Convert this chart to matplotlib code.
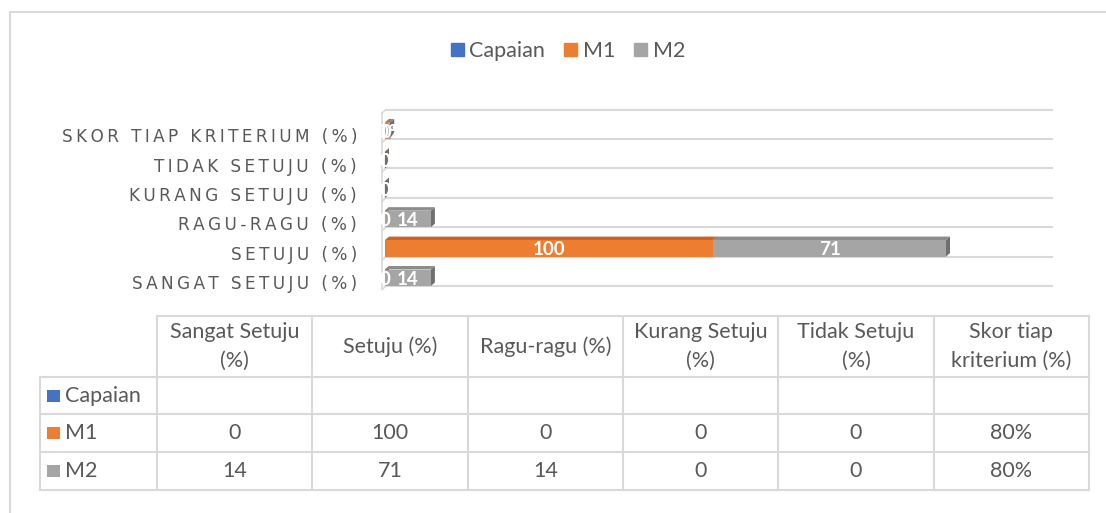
import textwrap
import numpy as np
import matplotlib.pyplot as plt
from matplotlib.patches import Polygon, Rectangle, Patch

# ---- data ----
categories = ['Sangat Setuju (%)', 'Setuju (%)', 'Ragu-ragu (%)',
              'Kurang Setuju (%)', 'Tidak Setuju (%)', 'Skor tiap kriterium (%)']
series_names = ['Capaian', 'M1', 'M2']
capaian = [None, None, None, None, None, None]
m1 = [0, 100, 0, 0, 0, 0.8]
m2 = [14, 71, 14, 0, 0, 0.8]
percent_cat = [False, False, False, False, False, True]

colors = ['#4472C4', '#ED7D31', '#A5A5A5']
top_colors = ['#3A62A8', '#C9652A', '#8C8C8C']
side_colors = ['#2F528F', '#A9531F', '#6F6F6F']
text_color = '#595959'
line_color = '#D9D9D9'
FONT = ['Lato', 'DejaVu Sans']
plt.rcParams['font.family'] = FONT


def fmt(v, is_pct):
    if v is None:
        return ''
    return f'{v:.0%}' if is_pct else f'{v:g}'


W, H = 1106, 513
fig = plt.figure(figsize=(W / 100, H / 100), dpi=100)

# background layer in pixel coords (border + data table)
bg = fig.add_axes([0, 0, 1, 1])
bg.set_xlim(0, W)
bg.set_ylim(H, 0)
bg.axis('off')
bg.plot([10, 10, W + 5], [H + 5, 12, 12], color=line_color, lw=1.5)

# ---- 3D-ish stacked bar chart ----
x0_px, x1_px, yt_px, yb_px = 382, 1052, 109.5, 286
ax = fig.add_axes([x0_px / W, 1 - yb_px / H, (x1_px - x0_px) / W, (yb_px - yt_px) / H],
                  facecolor='none')
xmin, xmax = -0.9, 203.3
ax.set_xlim(xmin, xmax)
ax.set_ylim(-0.5, 5.5)
upx = (xmax - xmin) / (x1_px - x0_px)
vpx = 6 / (yb_px - yt_px)
dx, dy = 4 * upx, 3.5 * vpx
hf = 16.5 * vpx

n = len(categories)
# back wall grid + left wall
for k in range(n + 1):
    y = k - 0.5
    ax.plot([xmin + dx, xmax], [y, y], color=line_color, lw=1.5, zorder=0, clip_on=False)
    ax.plot([xmin, xmin + dx], [y - dy, y], color=line_color, lw=1.2, zorder=0, clip_on=False)
ax.plot([xmin, xmin], [-0.5 - dy, n - 0.5 - dy], color=line_color, lw=1.2, zorder=0, clip_on=False)

series_vals = [capaian, m1, m2]
for i in range(n):
    b = i - 0.5
    left = 0
    z = 2
    for s, vals in enumerate(series_vals):
        v = vals[i]
        if v is None:
            continue
        ax.add_patch(Polygon([(left + v, b), (left + v + dx, b + dy), (left + v + dx, b + hf + dy),
                              (left + v, b + hf)], closed=True, color=side_colors[s], lw=0, zorder=z))
        ax.add_patch(Polygon([(left, b + hf), (left + v, b + hf), (left + v + dx, b + hf + dy),
                              (left + dx, b + hf + dy)], closed=True, color=top_colors[s], lw=0, zorder=z + 1))
        ax.add_patch(Rectangle((left, b), v, hf, color=colors[s], lw=0, zorder=z + 2))
        ax.text(left + v / 2, b + hf / 2, fmt(v, percent_cat[i]), color='white', fontsize=13.5,
                fontweight='bold', ha='center', va='center_baseline', zorder=20)
        left += v
        z += 3

ax.set_yticks([i - 0.5 + 0.13 for i in range(n)])
ax.set_yticklabels(['\u2009'.join(c.upper()) for c in categories], family=['DejaVu Sans'])
ax.tick_params(axis='y', length=0, pad=18, labelsize=12.2, labelcolor=text_color)
ax.set_xticks([])
for sp in ax.spines.values():
    sp.set_visible(False)

# legend
handles = [Patch(color=c, label=nm) for c, nm in zip(colors, series_names)]
fig.legend(handles=handles, loc='center', bbox_to_anchor=(568 / W, 1 - 51 / H), ncol=3,
           frameon=False, handlelength=0.6, handleheight=0.6, handletextpad=0.25,
           columnspacing=0.9, fontsize=15.5, labelcolor=text_color)

# ---- data table ----
col_x = np.linspace(157, 1089, n + 1)
row_y = [316, 377, 414, 452, 490]
lab_x = 40
bg.plot([col_x[0], col_x[-1]], [row_y[0], row_y[0]], color=line_color, lw=1.5)
for y in row_y[1:]:
    bg.plot([lab_x, col_x[-1]], [y, y], color=line_color, lw=1.5)
for x in col_x:
    bg.plot([x, x], [row_y[0], row_y[-1]], color=line_color, lw=1.5)
bg.plot([lab_x, lab_x], [row_y[1], row_y[-1]], color=line_color, lw=1.5)

for j, c in enumerate(categories):
    bg.text((col_x[j] + col_x[j + 1]) / 2, (row_y[0] + row_y[1]) / 2, textwrap.fill(c, 14),
            ha='center', va='center', fontsize=15.5, color=text_color, linespacing=1.5)

for r, (nm, vals) in enumerate(zip(series_names, series_vals)):
    yc = (row_y[r + 1] + row_y[r + 2]) / 2
    bg.add_patch(Rectangle((47, yc - 6), 13, 12, color=colors[r], lw=0))
    bg.text(65, yc, nm, ha='left', va='center', fontsize=15.5, color=text_color)
    for j in range(n):
        bg.text((col_x[j] + col_x[j + 1]) / 2, yc, fmt(vals[j], percent_cat[j]),
                ha='center', va='center', fontsize=15.5, color=text_color)

fig.savefig('out.png', dpi=100)
